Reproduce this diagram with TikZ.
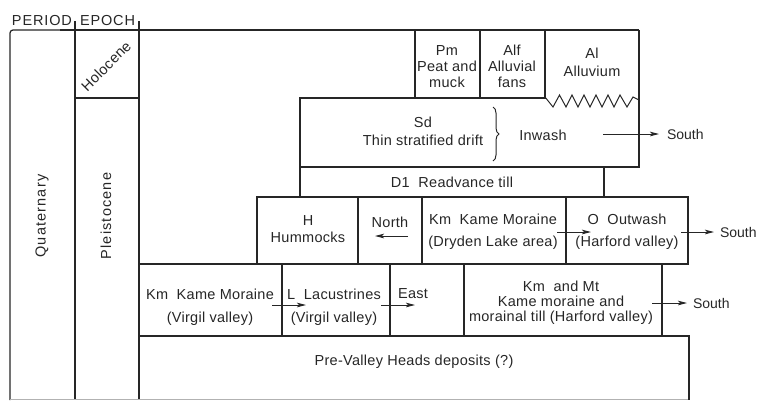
\documentclass[tikz,border=0pt]{standalone}
\usepackage{fontspec}
\setmainfont{Liberation Sans}[LetterSpace=2]
\usetikzlibrary{arrows.meta,decorations.pathreplacing}
\definecolor{ink}{HTML}{262626}
\begin{document}
\begin{tikzpicture}[x=1pt,y=-1pt,line width=1.25pt,color=ink,
  every node/.style={inner sep=0pt,outer sep=0pt},
  txt/.style={font=\fontsize{14.5}{16}\selectfont,align=center,text=ink},
  cell/.style={draw,rectangle,anchor=north west,inner sep=0pt,outer sep=0pt},
  flow/.style={-{Stealth[length=9pt,width=4.6pt,inset=2pt]},line width=1pt},
  dir/.style={txt,anchor=west,font=\fontsize{14}{16}\selectfont\addfontfeatures{LetterSpace=0}},
]
\useasboundingbox (0,0) rectangle (758,400);

% ---- frame and time columns
\draw[rounded corners=3pt] (10,400) -- (10,30) -- (60,30);
\draw (60,30) -- (639,30);
\draw (75,21) -- (75,400);
\draw (139,21) -- (139,400);
\draw (75,98) -- (139,98);
\draw[gray!60,line width=0.6pt] (10,399) -- (689,399);

\node[txt,anchor=base west] (period) at (12,25) {\addfontfeatures{LetterSpace=6}PERIOD};
\node[txt,anchor=base west] (epoch) at (80,25) {\addfontfeatures{LetterSpace=6}EPOCH};

\node[txt,rotate=45] (holo) at (106,66) {Holocene};
\node[txt,rotate=90] (quat) at (42,216) {\addfontfeatures{LetterSpace=8}Quaternary};
\node[txt,rotate=90] (pleis) at (106,216) {\addfontfeatures{LetterSpace=8}Pleistocene};

% ---- top row
\node[cell,minimum width=65pt,minimum height=68pt] (pm) at (415,30) {};
\node[cell,minimum width=65pt,minimum height=68pt] (alf) at (480,30) {};
\node[cell,draw=none,minimum width=94pt,minimum height=68pt] (al) at (545,30) {};
\node[txt,font=\fontsize{14.5}{16}\selectfont] (pmt) at (447,67) {Pm\\Peat and\\muck};
\node[txt,font=\fontsize{14.5}{16}\selectfont] (alft) at (512,66) {Alf\\Alluvial\\fans};
\node[txt,font=\fontsize{14.5}{18}\selectfont] (alt) at (592,62) {Al\\Alluvium};

% ---- Sd box with zigzag top on the right
\node[cell,draw=none,minimum width=339pt,minimum height=69pt] (sd) at (300,98) {};
\draw (545,98) -- (300,98) -- (300,167) -- (639,167) -- (639,30);
\draw[line width=1pt] (545,97) -- (553,107) -- (559.5,95) -- (566,107) -- (572,95)
  -- (578,107) -- (584,95) -- (590,107) -- (596,95) -- (602,107) -- (608,95)
  -- (614,107) -- (620,95) -- (627,107) -- (633,97) -- (639,100);
\node[txt,font=\fontsize{14.5}{18}\selectfont] (sdt) at (423,131) {Sd\\Thin stratified drift};
\draw[decorate,decoration={brace,amplitude=6pt},line width=1pt] (493,107) -- (493,161);
\node[txt] (inwash) at (543,135) {Inwash};
\node[dir] (south1) at (667,134) {South};
\coordinate (a1s) at (603,134);
\coordinate (a1e) at (659,134);
\draw[flow] (a1s) -- (a1e);

% ---- D1
\node[cell,minimum width=304pt,minimum height=30pt] (d1) at (300,167) {};
\node[txt] (d1t) at (452,182) {D1~~Readvance till};

% ---- H row
\node[cell,minimum width=101pt,minimum height=67pt] (h) at (257,197) {};
\node[cell,minimum width=64pt,minimum height=67pt] (north) at (358,197) {};
\node[cell,minimum width=144pt,minimum height=67pt] (kmd) at (422,197) {};
\node[cell,minimum width=122pt,minimum height=67pt] (o) at (566,197) {};
\node[txt,font=\fontsize{14.5}{17}\selectfont] (ht) at (308,229) {H\\Hummocks};
\node[txt] (northt) at (390,222) {North};
\coordinate (a2s) at (408,236);
\coordinate (a2e) at (375,236);
\draw[flow] (a2s) -- (a2e);
\node[txt,font=\fontsize{14.5}{22}\selectfont] (kmdt) at (493,232) {Km~~Kame Moraine\\(Dryden Lake area)};
\node[txt,font=\fontsize{14.5}{22}\selectfont] (ot) at (627,232) {O~~Outwash\\(Harford valley)};
\coordinate (a3s) at (557,232);
\coordinate (a3e) at (591,232);
\draw[flow] (a3s) -- (a3e);
\coordinate (a4s) at (681,232);
\coordinate (a4e) at (714,232);
\draw[flow] (a4s) -- (a4e);
\node[dir] (south2) at (720,232) {South};

% ---- Km row
\node[cell,minimum width=143pt,minimum height=72pt] (kmv) at (139,264) {};
\node[cell,minimum width=108pt,minimum height=72pt] (l) at (282,264) {};
\node[cell,minimum width=74pt,minimum height=72pt] (east) at (390,264) {};
\node[cell,minimum width=198pt,minimum height=72pt] (kmmt) at (464,264) {};
\node[txt,font=\fontsize{14.5}{23}\selectfont] (kmvt) at (210,307) {Km~~Kame Moraine\\(Virgil valley)};
\node[txt,font=\fontsize{14.5}{23}\selectfont] (lt) at (334,307) {L~~Lacustrines\\(Virgil valley)};
\node[txt] (eastt) at (413,294) {East};
\node[txt,font=\fontsize{14.5}{15}\selectfont] (kmmtt) at (561,303) {Km~~and Mt\\Kame moraine and\\morainal till (Harford valley)};
\coordinate (a5s) at (272,305);
\coordinate (a5e) at (306,305);
\draw[flow] (a5s) -- (a5e);
\coordinate (a6s) at (381,305);
\coordinate (a6e) at (415,305);
\draw[flow] (a6s) -- (a6e);
\coordinate (a7s) at (652,303);
\coordinate (a7e) at (687,303);
\draw[flow] (a7s) -- (a7e);
\node[dir] (south3) at (693,303) {South};

% ---- Pre-Valley Heads
\node[cell,draw=none,minimum width=550pt,minimum height=64pt] (pre) at (139,336) {};
\draw (139,336) -- (689,336) -- (689,400);
\node[txt] (pret) at (414,362) {Pre-Valley Heads deposits (?)};
\end{tikzpicture}
\end{document}
